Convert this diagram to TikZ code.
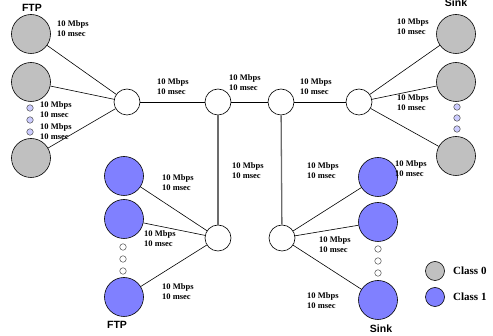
\documentclass[tikz,border=0pt]{standalone}
\usepackage{fontspec}
\setmainfont{Liberation Serif}
\setsansfont{Liberation Sans}
\begin{document}
\begin{tikzpicture}[x=1pt,y=-1pt,
  host/.style={circle,draw=black,line width=0.6pt,minimum size=39pt,inner sep=0},
  c0/.style={host,fill=gray0},
  c1/.style={host,fill=blue1},
  router/.style={circle,draw=black,line width=0.6pt,fill=white,minimum size=26pt,inner sep=0},
  dotg/.style={circle,draw=black!70,line width=0.5pt,fill=dotfill,minimum size=6.5pt,inner sep=0},
  dotw/.style={circle,draw=black!70,line width=0.5pt,fill=white,minimum size=6.5pt,inner sep=0},
  lab/.style={anchor=north west,align=left,inner sep=0,font=\bfseries\fontsize{8.5}{10}\selectfont},
  title/.style={font=\sffamily\bfseries\fontsize{10.5}{12}\selectfont,inner sep=0},
  link/.style={black,line width=0.6pt},
  vlink/.style={gray!85!black,line width=1.3pt},
  leg/.style={circle,draw=black,line width=0.6pt,minimum size=19pt,inner sep=0},
  legtxt/.style={anchor=west,inner sep=0,font=\bfseries\fontsize{11}{12}\selectfont}
]
\definecolor{gray0}{HTML}{C0C0C0}
\definecolor{blue1}{HTML}{8080FF}
\definecolor{dotfill}{HTML}{CCCCFF}
\useasboundingbox (0,0) rectangle (493,336);

% routers
\node[router] (r1) at (127,102) {};
\node[router] (r2) at (218,102) {};
\node[router] (r3) at (281,102) {};
\node[router] (r4) at (359,102) {};
\node[router] (r5) at (218,238) {};
\node[router] (r6) at (282,238) {};

% hosts
\node[c0] (g1) at (31,34) {};
\node[c0] (g2) at (31,82) {};
\node[c0] (g3) at (31,158) {};
\node[c0] (s1) at (456,34) {};
\node[c0] (s2) at (456,82) {};
\node[c0] (s3) at (456,156) {};
\node[c1] (b1) at (124,176) {};
\node[c1] (b2) at (124,219) {};
\node[c1] (b3) at (124,297) {};
\node[c1] (t1) at (378,177) {};
\node[c1] (t2) at (378,222) {};
\node[c1] (t3) at (378,300) {};

% dots
\node[dotg] (d1) at (30,108) {};
\node[dotg] (d2) at (30,120) {};
\node[dotg] (d3) at (30,132) {};
\node[dotg] (d4) at (457,107) {};
\node[dotg] (d5) at (457,118) {};
\node[dotg] (d6) at (457,129) {};
\node[dotw] (d7) at (123,247) {};
\node[dotw] (d8) at (123,259) {};
\node[dotw] (d9) at (123,271) {};
\node[dotw] (d10) at (378,249) {};
\node[dotw] (d11) at (378,261) {};
\node[dotw] (d12) at (378,273) {};

% links
\draw[link] (g1) -- (r1);
\draw[link] (g2) -- (r1);
\draw[link] (g3) -- (r1);
\draw[link] (r1) -- (r2);
\draw[link] (r2) -- (r3);
\draw[link] (r3) -- (r4);
\draw[link] (r4) -- (s1);
\draw[link] (r4) -- (s2);
\draw[link] (r4) -- (s3);
\draw[vlink] (r2) -- (r5);
\draw[vlink] (r3) -- (r6);
\draw[link] (b1) -- (r5);
\draw[link] (b2) -- (r5);
\draw[link] (b3) -- (r5);
\draw[link] (r6) -- (t1);
\draw[link] (r6) -- (t2);
\draw[link] (r6) -- (t3);

% labels
\node[lab] (l1) at (57,20) {10 Mbps\\10 msec};
\node[lab] (l2) at (40,101) {10 Mbps\\10 msec};
\node[lab] (l3) at (40,123) {10 Mbps\\10 msec};
\node[lab] (l4) at (157,78) {10 Mbps\\10 msec};
\node[lab] (l5) at (229,74) {10 Mbps\\10 msec};
\node[lab] (l6) at (300,78) {10 Mbps\\10 msec};
\node[lab] (l7) at (397,18) {10 Mbps\\10 msec};
\node[lab] (l8) at (397,94) {10 Mbps\\10 msec};
\node[lab] (l9) at (395,160) {10 Mbps\\10 msec};
\node[lab] (l10) at (162,174) {10 Mbps\\10 msec};
\node[lab] (l11) at (144,230) {10 Mbps\\10 msec};
\node[lab] (l12) at (162,283) {10 Mbps\\10 msec};
\node[lab] (l13) at (232,162) {10 Mbps\\10 msec};
\node[lab] (l14) at (307,162) {10 Mbps\\10 msec};
\node[lab] (l15) at (319,236) {10 Mbps\\10 msec};
\node[lab] (l16) at (307,292) {10 Mbps\\10 msec};

% titles
\node[title] (ftp1) at (32,8) {FTP};
\node[title] (sink1) at (456,3) {Sink};
\node[title] (ftp2) at (117,325) {FTP};
\node[title] (sink2) at (381,329) {Sink};

% legend
\node[leg,fill=gray0] (k0) at (435,271) {};
\node[leg,fill=blue1] (k1) at (435,297) {};
\node[legtxt] (k0t) at (453,271) {Class 0};
\node[legtxt] (k1t) at (453,297) {Class 1};
\end{tikzpicture}
\end{document}
